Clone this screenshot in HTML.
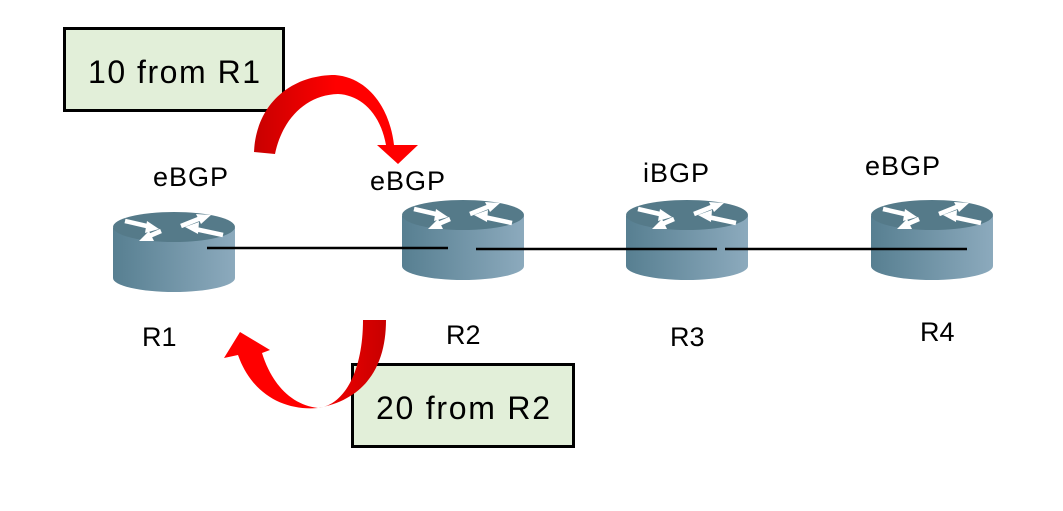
<!DOCTYPE html>
<html><head><style>body{margin:0;background:#fff}svg{display:block}text{font-family:"Liberation Sans",sans-serif;fill:#000}</style></head>
<body>
<svg width="1063" height="511" viewBox="0 0 1063 511" xmlns="http://www.w3.org/2000/svg">
<defs>
<linearGradient id="bd" x1="0" x2="1" y1="0" y2="0"><stop offset="0" stop-color="#577f91"/><stop offset="1" stop-color="#8caabd"/></linearGradient>
<linearGradient id="rd" x1="0" x2="1"><stop offset="0" stop-color="#c80000"/><stop offset="0.5" stop-color="#ff0000"/></linearGradient>
<linearGradient id="rd2" x1="1" x2="0"><stop offset="0" stop-color="#c80000"/><stop offset="0.5" stop-color="#ff0000"/></linearGradient>
<g id="rt">
<path d="M0,16 L0,66 A61,14 0 0 0 122,66 L122,16 Z" fill="url(#bd)"/>
<ellipse cx="61" cy="15" rx="61" ry="15" fill="#557a89"/>
<g stroke="#fff" stroke-width="4.5" fill="#fff">
<line x1="12" y1="9" x2="38" y2="15"/><polygon points="46,17 34,9 32,21" stroke="none"/>
<line x1="68" y1="14" x2="88" y2="6"/><polygon points="98,3 83,2 88,12" stroke="none"/>
<line x1="48" y1="19" x2="34" y2="25"/><polygon points="26,29 41,29 36,19" stroke="none"/>
<line x1="110" y1="23" x2="82" y2="17"/><polygon points="72,15 86,10 85,22" stroke="none"/>
</g>
</g>
</defs>
<rect x="64.5" y="28.5" width="219" height="82" fill="#e2efd9" stroke="#000" stroke-width="3"/>
<text x="88" y="83" font-size="32" textLength="172">10 from R1</text>
<rect x="352.5" y="364.5" width="221" height="82" fill="#e2efd9" stroke="#000" stroke-width="3"/>
<text x="376" y="419" font-size="32" textLength="174">20 from R2</text>
<use href="#rt" x="113" y="212"/>
<use href="#rt" x="402" y="200"/>
<use href="#rt" x="626" y="200"/>
<use href="#rt" x="871" y="200"/>
<g stroke="#000" stroke-width="2.5">
<line x1="207" y1="248" x2="448" y2="248"/>
<line x1="476" y1="249" x2="717" y2="249"/>
<line x1="725" y1="249" x2="967" y2="249"/>
</g>
<path d="M254,152 C256,105 290,75 335,75 C370,78 390,110 394,145 L418,145 L398,164 L377,145 L386,145 C380,112 360,95 338,94 C305,95 282,120 275,154 Z" fill="url(#rd)"/>
<path d="M363,320 C363,370 345,405 318,408 C292,405 272,385 262,353 L270,350 L240,332 L224,358 L238,355 C252,395 285,411 318,408 C362,400 386,370 386,320 Z" fill="url(#rd2)"/>
<g font-size="27">
<text x="153" y="186" textLength="75">eBGP</text>
<text x="370" y="190" textLength="75">eBGP</text>
<text x="643" y="182" textLength="66">iBGP</text>
<text x="865" y="175" textLength="75">eBGP</text>
<text x="142" y="346">R1</text>
<text x="446" y="344">R2</text>
<text x="670" y="346">R3</text>
<text x="920" y="341">R4</text>
</g>
</svg>
</body></html>
